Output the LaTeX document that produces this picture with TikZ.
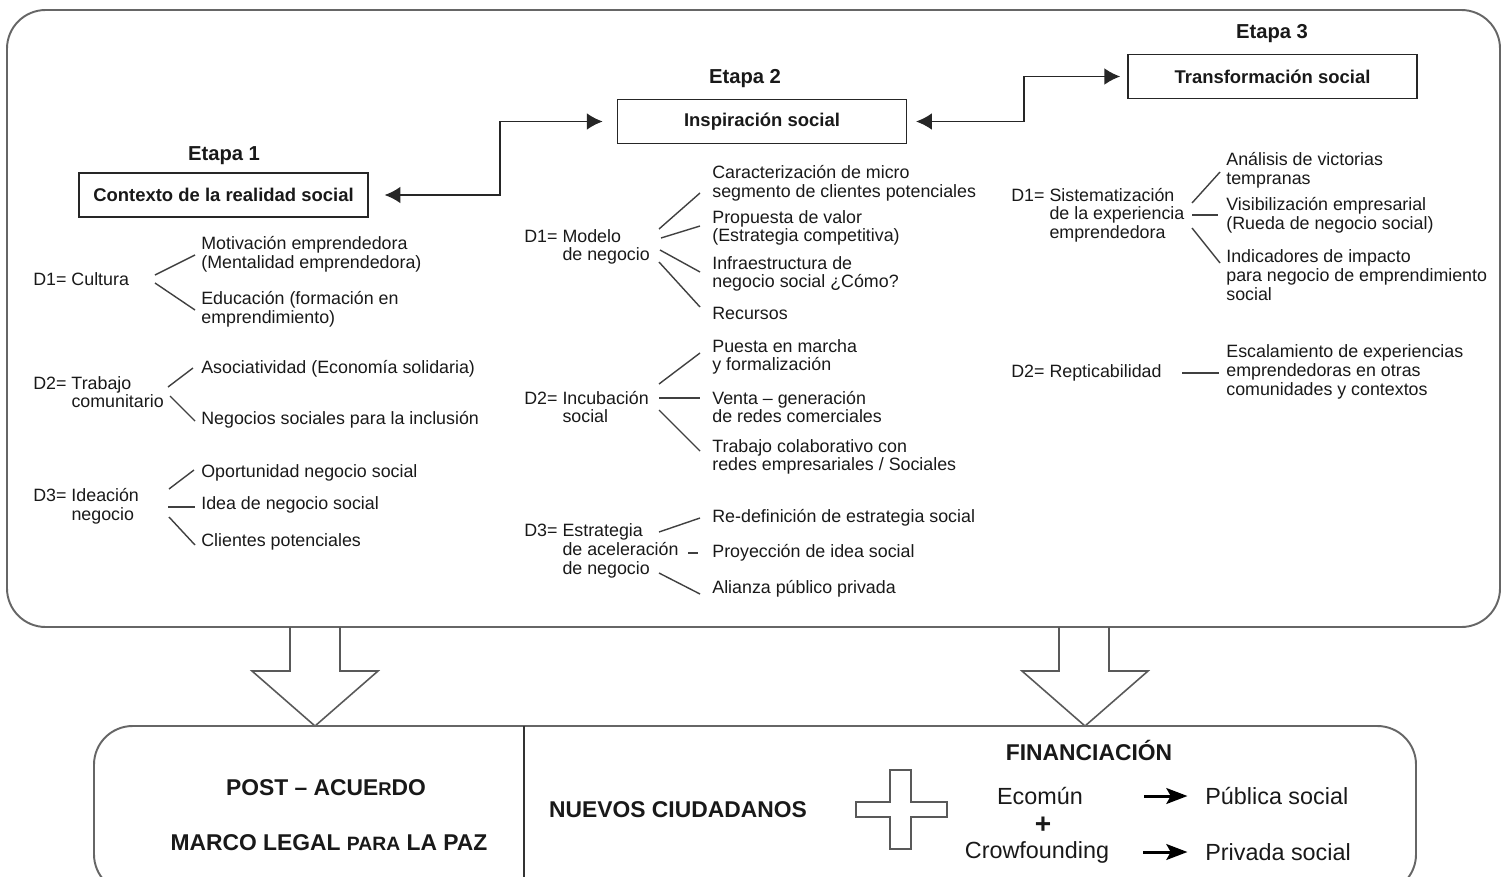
\documentclass[tikz,border=0pt]{standalone}
\usepackage{fontspec}
\setmainfont{Liberation Sans}
\usetikzlibrary{arrows.meta,positioning,calc}

\begin{document}
\begin{tikzpicture}[x=0.02cm,y=-0.02cm,
        every node/.style={text=black!90},
        leaf/.style={anchor=west,inner sep=0pt,align=left,font=\fontsize{10.15}{10.6}\selectfont},
        branch/.style={draw=black!75,line width=0.8pt},
        stage/.style={draw=black!85,line width=0.9pt,minimum width=5.78cm,minimum height=0.88cm,
            inner sep=0pt,font=\fontsize{10.5}{12}\selectfont\bfseries},
        etapa/.style={font=\fontsize{11.5}{13}\selectfont\bfseries},
        link/.style={draw=black!85,line width=1pt,{Latex[length=9pt,width=9.5pt]}-{Latex[length=9pt,width=9.5pt]}},
        frame/.style={draw=black!60,line width=1.1pt,rounded corners=22pt},
        hollow/.style={draw=black!65,line width=0.9pt},
        big/.style={inner sep=0pt,font=\fontsize{13}{15}\selectfont\bfseries},
        fin/.style={inner sep=0pt,font=\fontsize{13.3}{15}\selectfont},
        farrow/.style={draw=black,line width=1.7pt,-{Stealth[length=12pt,width=9pt,inset=2.5pt]}}]

    \useasboundingbox (0,0) rectangle (1510,876);
    \clip (0,0) rectangle (1510,876);

    \draw[frame] (7,10) rectangle (1500,627);

    \node[etapa] (e1) at (224,156) {Etapa 1};
    \node[etapa] (e2) at (745,79) {Etapa 2};
    \node[etapa] (e3) at (1272,34) {Etapa 3};
    \node[stage] (ctx) at (223.5,195) {Contexto de la realidad social};
    \node[stage] (ins) at (762,121.5) {Inspiración social};
    \node[stage] (trf) at (1272.5,76.5) {Transformación social};

    \coordinate (k1) at (500,160);
    \coordinate (k2) at (1024,100);
    \draw[link,shorten <=9pt,shorten >=8pt] (ctx.east) -| (k1) |- (ins.west);
    \draw[link,shorten <=5pt,shorten >=4pt] (ins.east) -| (k2) |- (trf.west);

    % etapa 1
    \node[leaf] (cul) at (33,279) {D1= Cultura};
    \node[leaf] (mot) at (201,254) {Motivación emprendedora\\(Mentalidad emprendedora)};
    \node[leaf] (edu) at (201,309) {Educación (formación en\\emprendimiento)};
    \node[leaf] (tra) at (33,392) {D2= Trabajo\\\hphantom{D2= }comunitario};
    \node[leaf] (aso) at (201,369) {Asociatividad (Economía solidaria)};
    \node[leaf] (neg) at (201,420) {Negocios sociales para la inclusión};
    \node[leaf] (ide) at (33,506) {D3= Ideación\\\hphantom{D3= }negocio};
    \node[leaf] (opo) at (201,473) {Oportunidad negocio social};
    \node[leaf] (ida) at (201,505) {Idea de negocio social};
    \node[leaf] (cli) at (201,542) {Clientes potenciales};

    \coordinate (r1) at (155,279);
    \coordinate (r2) at (169,392);
    \coordinate (r3) at (168,507);
    \draw[branch] (r1) ++(0,-4) -- ($(mot.west)+(-6,1)$);
    \draw[branch] (r1) ++(0,4) -- ($(edu.west)+(-6,1)$);
    \draw[branch] (r2) ++(-1,-5) -- ($(aso.west)+(-8,-1)$);
    \draw[branch] (r2) ++(1,4) -- ($(neg.west)+(-6,1)$);
    \draw[branch] (r3) ++(1,-18) -- ($(opo.west)+(-7,-3)$);
    \draw[branch] (r3) -- ($(ida.west)+(-6,2)$);
    \draw[branch] (r3) ++(1,10) -- ($(cli.west)+(-6,3)$);

    % etapa 2
    \node[leaf] (mod) at (524,247) {D1= Modelo\\\hphantom{D1= }de negocio};
    \node[leaf] (car) at (712,183) {Caracterización de micro\\segmento de clientes potenciales};
    \node[leaf] (pro) at (712,228) {Propuesta de valor\\(Estrategia competitiva)};
    \node[leaf] (inf) at (712,274) {Infraestructura de\\negocio social ¿Cómo?};
    \node[leaf] (rec) at (712,313) {Recursos};
    \node[leaf] (inc) at (524,407) {D2= Incubación\\\hphantom{D2= }social};
    \node[leaf] (pue) at (712,357) {Puesta en marcha\\y formalización};
    \node[leaf] (ven) at (712,407) {Venta – generación\\de redes comerciales};
    \node[leaf] (trb) at (712,457) {Trabajo colaborativo con\\redes empresariales / Sociales};
    \node[leaf] (est) at (524,551) {D3= Estrategia\\\hphantom{D3= }de aceleración\\\hphantom{D3= }de negocio};
    \node[leaf] (red) at (712,518) {Re-definición de estrategia social};
    \node[leaf] (pry) at (712,553) {Proyección de idea social};
    \node[leaf] (ali) at (712,589) {Alianza público privada};

    \coordinate (r4) at (660,245);
    \coordinate (r5) at (659,398);
    \coordinate (r6) at (659,553);
    \draw[branch] (r4) ++(-1,-16) -- ($(car.west)+(-12,10)$);
    \draw[branch] (r4) ++(1,-7) -- ($(pro.west)+(-12,-2)$);
    \draw[branch] (r4) ++(0,5) -- ($(inf.west)+(-12,-2)$);
    \draw[branch] (r4) ++(-1,17) -- ($(rec.west)+(-12,-6)$);
    \draw[branch] (r5) ++(0,-14) -- ($(pue.west)+(-12,-4)$);
    \draw[branch] (r5) -- ($(ven.west)+(-12,-9)$);
    \draw[branch] (r5) ++(0,12) -- ($(trb.west)+(-12,-6)$);
    \draw[branch] (r6) ++(0,-21) -- ($(red.west)+(-12,0)$);
    \draw[branch] (r6) ++(29,0) -- ($(pry.west)+(-14,0)$);
    \draw[branch] (r6) ++(0,20) -- ($(ali.west)+(-12,5)$);

    % etapa 3
    \node[leaf] (sis) at (1011,215) {D1= Sistematización\\\hphantom{D1= }de la experiencia\\\hphantom{D1= }emprendedora};
    \node[leaf] (ana) at (1226,170) {Análisis de victorias\\tempranas};
    \node[leaf] (vis) at (1226,215) {Visibilización empresarial\\(Rueda de negocio social)};
    \node[leaf] (ind) at (1226,275) {Indicadores de impacto\\para negocio de emprendimiento\\social};
    \node[leaf] (rep) at (1011,373) {D2= Repticabilidad};
    \node[leaf] (esc) at (1226,372) {Escalamiento de experiencias\\emprendedoras en otras\\comunidades y contextos};

    \coordinate (r7) at (1192,215);
    \coordinate (r8) at (1182,373);
    \draw[branch] (r7) ++(0,-12) -- ($(ana.west)+(-6,2)$);
    \draw[branch] (r7) -- ($(vis.west)+(-8,0)$);
    \draw[branch] (r7) ++(0,13) -- ($(ind.west)+(-6,-12)$);
    \draw[branch] (r8) -- ($(esc.west)+(-7,1)$);

    % flechas huecas
    \draw[hollow] (290,627) -- (290,671) -- (252,671) -- (315,726) -- (378,671) -- (340,671) -- (340,627);
    \draw[hollow] (1059,627) -- (1059,671) -- (1022,671) -- (1085,726) -- (1148,671) -- (1109,671) -- (1109,627);

    % parte inferior
    \draw[frame] (94,726) rectangle (1416,893);
    \draw[draw=black!80,line width=1pt] (524,726) -- (524,880);

    \node[big] (pos) at (326,788) {POST – ACUE{\fontsize{10.5}{15}\selectfont R}DO};
    \node[big] (mar) at (329,843) {MARCO LEGAL {\fontsize{11}{15}\selectfont PARA} LA PAZ};
    \node[big] (nue) at (678,810) {NUEVOS CIUDADANOS};
    \draw[hollow,line width=1.2pt] (890,770) -- (911,770) -- (911,802) -- (947,802) -- (947,817) -- (911,817)
        -- (911,849) -- (890,849) -- (890,817) -- (856,817) -- (856,802) -- (890,802) -- cycle;
    \node[big] (fin) at (1089,750) {FINANCIACIÓN};
    \node[fin] (eco) at (1040,796) {Ecomún};
    \node[big,font=\fontsize{16}{16}\selectfont\bfseries] (mas) at (1043,825) {+};
    \node[fin] (cro) at (1037,852) {Crowfounding};
    \node[fin,anchor=west] (pub) at (1205,796) {Pública social};
    \node[fin,anchor=west] (pri) at (1205,852) {Privada social};
    \draw[farrow,shorten <=34.6pt,shorten >=10pt] (eco.east) -- (pub.west);
    \draw[farrow,shorten <=19.3pt,shorten >=10pt] (cro.east) -- (pri.west);

\end{tikzpicture}
\end{document}
